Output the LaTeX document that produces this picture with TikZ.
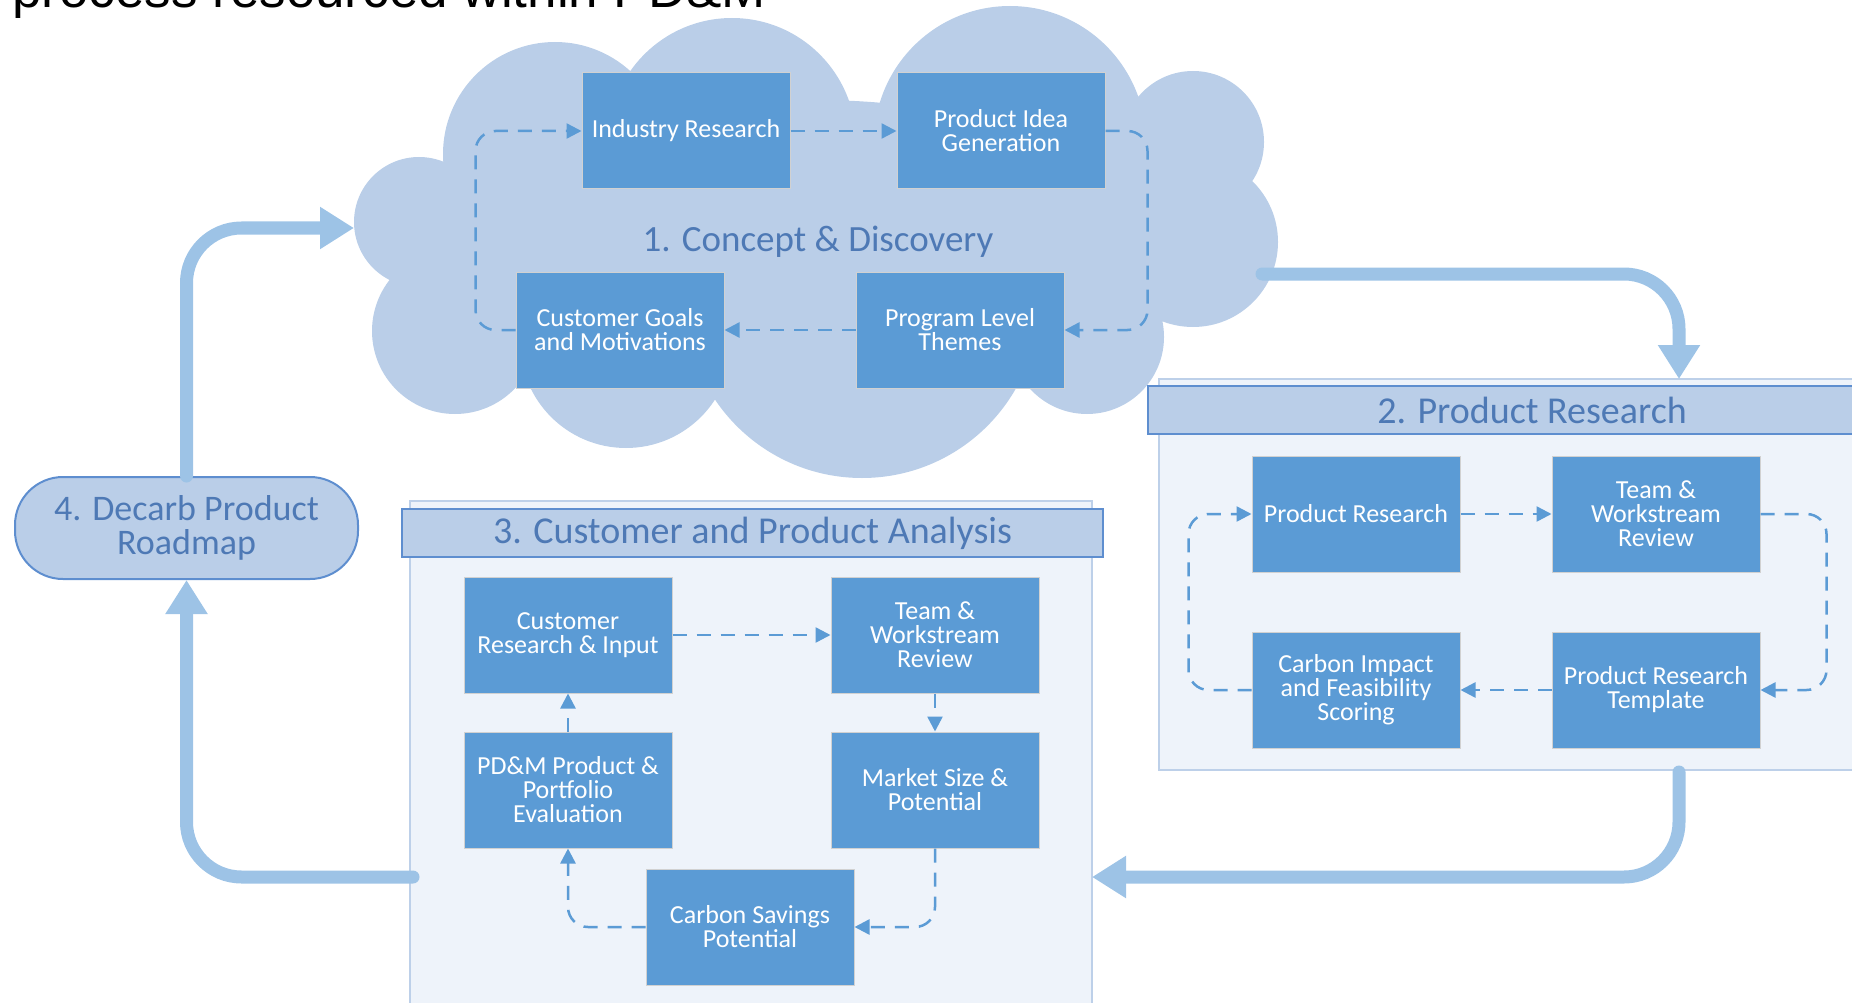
\documentclass[tikz,border=0pt]{standalone}
\usepackage{fontspec}
\setmainfont{Carlito}
\newfontfamily\arialfont{Liberation Sans}
\usetikzlibrary{arrows.meta}
\definecolor{boxblue}{HTML}{5B9BD5}
\definecolor{cloudblue}{HTML}{BACEE8}
\definecolor{paneblue}{HTML}{EEF3FA}
\definecolor{paneedge}{HTML}{BDD0E9}
\definecolor{headedge}{HTML}{5E8ECF}
\definecolor{titleblue}{HTML}{4E79B5}
\definecolor{bigarrow}{HTML}{9DC3E6}

\begin{document}
\begin{tikzpicture}[x=1pt,y=-1pt,
  stepbox/.style={draw=black!18,line width=1pt,fill=boxblue,text=white,minimum width=208,minimum height=116,inner sep=2pt,align=center,font=\fontsize{26}{24}\selectfont},
  headbar/.style={draw=headedge,line width=2.5pt,fill=cloudblue,text=titleblue,minimum height=48,inner sep=0pt,font=\fontsize{38}{32}\selectfont},
  pane/.style={draw=paneedge,line width=1.5pt,fill=paneblue},
  flow/.style={boxblue,line width=2.5pt,dash pattern=on 14pt off 10pt,-{Triangle[length=15pt,width=15pt]},rounded corners=20pt},
  bigflow/.style={bigarrow,line width=13pt,line cap=round,-{Triangle[length=34pt,width=40pt]},rounded corners=55pt}]
  \useasboundingbox (0,0) rectangle (1852,1003);
  \clip (0,0) rectangle (1852,1003);

  % heading, cut off at the top
  \node[anchor=base west,inner sep=0pt,font=\arialfont\fontsize{53}{60}\selectfont] (heading) at (12,8) {process resourced within PD\&M};

  % 1. Concept & Discovery (cloud)
  \fill[cloudblue] (419,222) circle (65pt) (555,154) circle (112pt) (732,142) circle (124pt)
    (1010,142) circle (136pt) (1193,142) circle (71pt) (1193,242) circle (85pt)
    (1087,337) circle (77pt) (862,301) circle (177pt) (626,342) circle (106pt) (455,331) circle (83pt)
    (500,250) circle (90pt);
  \fill[cloudblue] (815,240) ellipse (330pt and 140pt);
  \node[text=titleblue,font=\fontsize{37}{32}\selectfont] (concept) at (818,242) {1. Concept \& Discovery};
  \node[stepbox] (ir) at (686,131) {Industry Research};
  \node[stepbox] (pig) at (1001,131) {Product Idea\\Generation};
  \node[stepbox] (cgm) at (620,330) {Customer Goals\\and Motivations};
  \node[stepbox] (plt) at (960,330) {Program Level\\Themes};
  \draw[flow] (ir) -- (pig);
  \draw[flow] (pig.east) -- ++(42,0) |- (plt.east);
  \draw[flow] (plt) -- (cgm);
  \draw[flow] (cgm.west) -- ++(-40,0) |- (ir.west);

  % 2. Product Research
  \draw[pane] (1159,379) rectangle (1900,770);
  \node[headbar,minimum width=768] (secB) at (1532,410) {2. Product Research};
  \node[stepbox] (pr) at (1356,514) {Product Research};
  \node[stepbox] (twrA) at (1656,514) {Team \&\\Workstream\\Review};
  \node[stepbox] (cif) at (1356,690) {Carbon Impact\\and Feasibility\\Scoring};
  \node[stepbox] (prt) at (1656,690) {Product Research\\Template};
  \draw[flow] (pr) -- (twrA);
  \draw[flow] (twrA.east) -- ++(66,0) |- (prt.east);
  \draw[flow] (prt) -- (cif);
  \draw[flow] (cif.west) -- ++(-63,0) |- (pr.west);

  % 3. Customer and Product Analysis
  \draw[pane] (410,501) rectangle (1092,1020);
  \node[headbar,minimum width=701] (secC) at (752.5,533) {3. Customer and Product Analysis};
  \node[stepbox] (cri) at (568,635) {Customer\\Research \& Input};
  \node[stepbox] (twrB) at (935,635) {Team \&\\Workstream\\Review};
  \node[stepbox] (pdm) at (568,790) {PD\&M Product \&\\Portfolio\\Evaluation};
  \node[stepbox] (msp) at (935,790) {Market Size \&\\Potential};
  \node[stepbox] (csp) at (750,927) {Carbon Savings\\Potential};
  \draw[flow] (cri) -- (twrB);
  \draw[flow] (twrB) -- (msp);
  \draw[flow] (msp.south) |- (csp.east);
  \draw[flow] (csp.west) -| (pdm.south);
  \draw[flow] (pdm) -- (cri);

  % 4. Decarb Product Roadmap
  \node[draw=headedge,line width=2pt,fill=cloudblue,rounded corners=48pt,minimum width=343,minimum height=102,align=center,text=titleblue,font=\fontsize{36}{34}\selectfont] (roadmap) at (186.5,528) {4. Decarb Product\\Roadmap};

  % big arrows between the stages
  \coordinate (cloudW) at (354,228);
  \coordinate (cloudE) at (1262,274);
  \coordinate (secBtop) at (1679,379);
  \coordinate (secBbot) at (1679,772);
  \coordinate (secCright) at (1092,877);
  \coordinate (secCleft) at (413,877);
  \draw[bigflow] (roadmap.north) |- (cloudW);
  \draw[bigflow] (cloudE) -| (secBtop);
  \draw[bigflow] (secBbot) |- (secCright);
  \draw[bigflow] (secCleft) -| (roadmap.south);
\end{tikzpicture}
\end{document}
